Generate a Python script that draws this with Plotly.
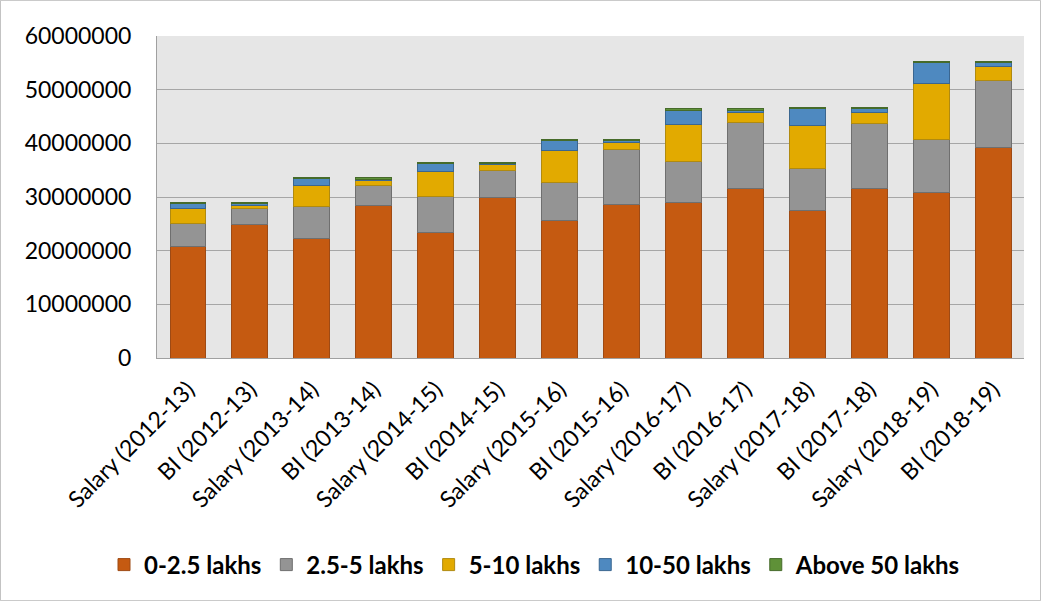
import plotly.graph_objects as go

categories = ["Salary (2012-13)", "BI (2012-13)", "Salary (2013-14)", "BI (2013-14)",
              "Salary (2014-15)", "BI (2014-15)", "Salary (2015-16)", "BI (2015-16)",
              "Salary (2016-17)", "BI (2016-17)", "Salary (2017-18)", "BI (2017-18)",
              "Salary (2018-19)", "BI (2018-19)"]

s_0_25 = [20.7e6, 24.8e6, 22.2e6, 28.4e6, 23.4e6, 29.9e6, 25.7e6, 28.6e6, 29.0e6, 31.5e6, 27.4e6, 31.5e6, 30.9e6, 39.2e6]
s_25_5 = [4.3e6, 3.0e6, 6.1e6, 3.8e6, 6.7e6, 5.0e6, 7.0e6, 10.2e6, 7.7e6, 12.4e6, 7.9e6, 12.2e6, 9.9e6, 12.5e6]
s_5_10 = [2.8e6, 0.7e6, 3.9e6, 0.8e6, 4.7e6, 1.1e6, 5.9e6, 1.4e6, 6.8e6, 1.8e6, 8.1e6, 2.1e6, 10.4e6, 2.6e6]
s_10_50 = [1.0e6, 0.3e6, 1.2e6, 0.3e6, 1.5e6, 0.3e6, 2.0e6, 0.3e6, 2.6e6, 0.4e6, 3.1e6, 0.6e6, 3.8e6, 0.7e6]
s_above50 = [0.2e6, 0.2e6, 0.2e6, 0.3e6, 0.2e6, 0.2e6, 0.2e6, 0.3e6, 0.3e6, 0.3e6, 0.2e6, 0.3e6, 0.3e6, 0.3e6]

series = [
    ("0-2.5 lakhs", s_0_25, "#C55A11", "#9E4A14"),
    ("2.5-5 lakhs", s_25_5, "#949494", "#6F6F6F"),
    ("5-10 lakhs", s_5_10, "#E2AA00", "#B08A10"),
    ("10-50 lakhs", s_10_50, "#4E89C0", "#3A6690"),
    ("Above 50 lakhs", s_above50, "#5F9138", "#466B2A"),
]

fig = go.Figure()
for name, vals, col, lcol in series:
    fig.add_trace(go.Bar(x=categories, y=vals, name=name,
                         marker=dict(color=col, line=dict(color=lcol, width=1))))

W, H = 1041, 601
ml, mr, mt, mb = 157, 17, 36, 243
pw, ph = W - ml - mr, H - mt - mb

fig.update_layout(
    width=W, height=H,
    barmode="stack", bargap=0.42,
    margin=dict(l=ml, r=mr, t=mt, b=mb, pad=0),
    paper_bgcolor="white", plot_bgcolor="#E6E6E6",
    font=dict(family="Lato, Carlito, sans-serif", color="black"),
    showlegend=True,
    legend=dict(orientation="h", x=(535 - ml) / pw, xanchor="center", y=(mt + ph - 565) / ph, yanchor="middle",
                font=dict(size=24, family="Lato, sans-serif", weight="bold"),
                traceorder="normal", itemwidth=30),
    xaxis=dict(tickangle=-45, tickfont=dict(size=23), showgrid=False,
               showline=True, linecolor="#A0A0A0", linewidth=1, ticks="", ticklabelstandoff=8),
    yaxis=dict(range=[0, 60e6], dtick=10e6, tickformat="d", tickfont=dict(size=23),
               showgrid=True, gridcolor="#A6A6A6", gridwidth=1,
               showline=True, linecolor="#A0A0A0", linewidth=1,
               ticks="", ticklabelstandoff=20, zeroline=False),
    shapes=[dict(type="rect", xref="paper", yref="paper",
                 x0=-ml / pw + 0.0005, x1=1 + mr / pw - 0.0005,
                 y0=-mb / ph + 0.001, y1=1 + mt / ph - 0.001,
                 line=dict(color="#BFBFBF", width=1), fillcolor="rgba(0,0,0,0)", layer="below")],
)

fig.write_html("out.html")
